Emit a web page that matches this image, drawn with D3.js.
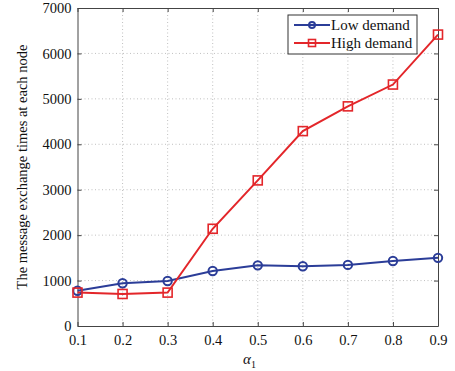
<!DOCTYPE html>
<html><head><meta charset="utf-8">
<script src="https://cdn.jsdelivr.net/npm/d3@7"></script>
<style>body{margin:0;background:#fff}svg{display:block}text{font-family:"Liberation Serif","Times New Roman",serif}</style>
</head><body><svg id="c" width="455" height="371"></svg>
<script>
const alphas = [0.1,0.2,0.3,0.4,0.5,0.6,0.7,0.8,0.9];
const lowDemand = [777,940,990,1210,1335,1315,1345,1430,1500];
const highDemand = [735,705,735,2140,3205,4290,4835,5315,6415];
const yTicks = [0,1000,2000,3000,4000,5000,6000,7000];
const seriesNames = ["Low demand","High demand"];
const colors = ["#2b3d98","#e3262a"];

const svg = d3.select("#c");
const L=77.5, R=438, T=8, B=326;
const x = d3.scaleLinear().domain([0.1,0.9]).range([L,R]);
const y = d3.scaleLinear().domain([0,7000]).range([B,T]);

// grid
const g = svg.append("g");
g.selectAll(".gx").data(alphas.slice(1,-1)).enter().append("line")
 .attr("x1",d=>x(d)).attr("x2",d=>x(d)).attr("y1",T).attr("y2",B)
 .attr("stroke","#b0b0b0").attr("stroke-width",0.8).attr("stroke-dasharray","1,2.5");
g.selectAll(".gy").data(yTicks.slice(1,-1)).enter().append("line")
 .attr("y1",d=>y(d)).attr("y2",d=>y(d)).attr("x1",L).attr("x2",R)
 .attr("stroke","#b0b0b0").attr("stroke-width",0.8).attr("stroke-dasharray","1,2.5");

// axes
const xa = svg.append("g").attr("transform",`translate(0,${B})`)
 .call(d3.axisBottom(x).tickValues(alphas).tickFormat(d3.format(".1f")).tickSizeInner(-4).tickSizeOuter(0).tickPadding(9));
const xt = svg.append("g").attr("transform",`translate(0,${T})`)
 .call(d3.axisTop(x).tickValues(alphas).tickSizeInner(-4).tickSizeOuter(0).tickFormat(""));
const ya = svg.append("g").attr("transform",`translate(${L},0)`)
 .call(d3.axisLeft(y).tickValues(yTicks).tickFormat(d3.format("d")).tickSizeInner(-4).tickSizeOuter(0).tickPadding(6));
const yr = svg.append("g").attr("transform",`translate(${R},0)`)
 .call(d3.axisRight(y).tickValues(yTicks).tickSizeInner(-4).tickSizeOuter(0).tickFormat(""));
[xa,xt,ya,yr].forEach(a=>{
  a.selectAll("path").attr("stroke","#444").attr("stroke-width",1);
  a.selectAll("line").attr("stroke","#444");
  a.selectAll("text").attr("font-size",14.5).attr("fill","#111").attr("font-family","Liberation Serif");
});

// lines
const data=[lowDemand,highDemand];
const line = d3.line().x((d,i)=>x(alphas[i])).y(d=>y(d));
data.forEach((s,k)=>{
  svg.append("path").datum(s).attr("d",line).attr("fill","none")
   .attr("stroke",colors[k]).attr("stroke-width",2);
});
// markers
svg.selectAll(".mc").data(lowDemand).enter().append("circle")
 .attr("cx",(d,i)=>x(alphas[i])).attr("cy",d=>y(d)).attr("r",4.2)
 .attr("fill","none").attr("stroke",colors[0]).attr("stroke-width",2);
svg.selectAll(".ms").data(highDemand).enter().append("rect")
 .attr("x",(d,i)=>x(alphas[i])-4.5).attr("y",d=>y(d)-4.5).attr("width",9).attr("height",9)
 .attr("fill","none").attr("stroke",colors[1]).attr("stroke-width",1.6);

// labels
svg.append("text").attr("transform","translate(27,167) rotate(-90)").attr("text-anchor","middle")
 .attr("font-size",14.5).attr("fill","#111").text("The message exchange times at each node");
const xl = svg.append("text").attr("x",243).attr("y",364).attr("font-size",15).attr("fill","#111").attr("font-style","italic");
xl.append("tspan").text("α");
xl.append("tspan").attr("font-size",10).attr("font-style","normal").attr("dy",4).text("1");

// legend
const lg = svg.append("g");
lg.append("rect").attr("x",288).attr("y",15).attr("width",129).attr("height",39)
 .attr("fill","#fff").attr("stroke","#333").attr("stroke-width",1);
seriesNames.forEach((n,k)=>{
  const yy = 25 + k*18;
  lg.append("line").attr("x1",294).attr("x2",330).attr("y1",yy).attr("y2",yy).attr("stroke",colors[k]).attr("stroke-width",2);
  if(k===0) lg.append("circle").attr("cx",312).attr("cy",yy).attr("r",3).attr("fill","none").attr("stroke",colors[0]).attr("stroke-width",2);
  else lg.append("rect").attr("x",308.5).attr("y",yy-3.5).attr("width",7).attr("height",7).attr("fill","none").attr("stroke",colors[1]).attr("stroke-width",1.6);
  lg.append("text").attr("x",331).attr("y",yy+5).attr("font-size",15).attr("fill","#111").text(n);
});
</script></body></html>
